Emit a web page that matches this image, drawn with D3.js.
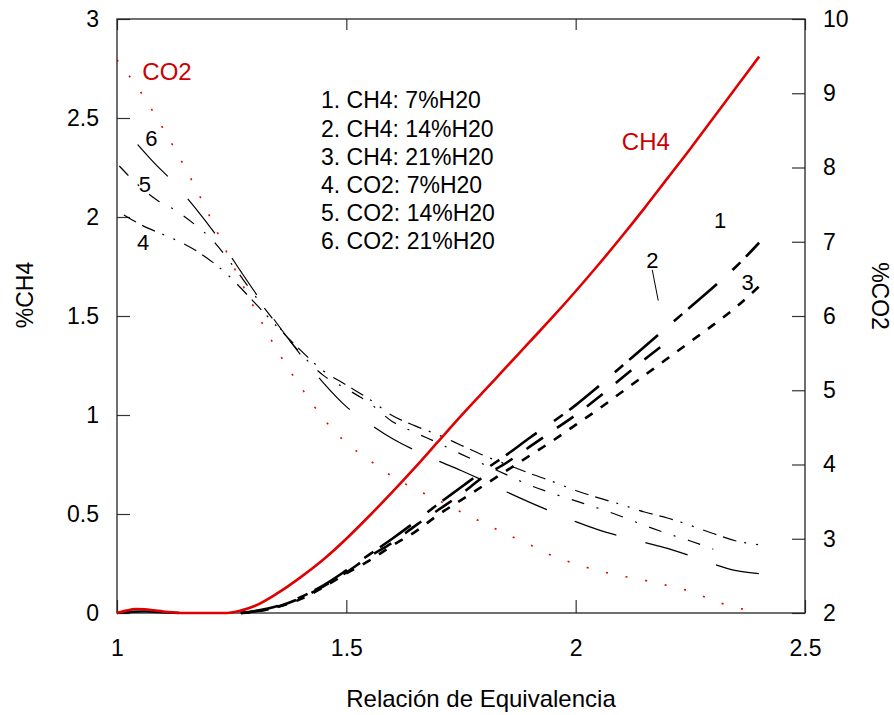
<!DOCTYPE html>
<html>
<head>
<meta charset="utf-8">
<script src="https://cdn.jsdelivr.net/npm/d3@7"></script>
<style>
  html, body { margin: 0; padding: 0; background: #fff; }
  svg text { font-family: "Liberation Sans", Arial, Helvetica, sans-serif; }
</style>
</head>
<body>
<svg id="chart" width="894" height="715"></svg>
<script>
// ---------------- DATA ----------------
// Axis ticks
const xTicks = [1, 1.5, 2, 2.5];
const xTickLabels = ["1", "1.5", "2", "2.5"];
const yLeftTicks = [0, 0.5, 1, 1.5, 2, 2.5, 3];
const yLeftTickLabels = ["0", "0.5", "1", "1.5", "2", "2.5", "3"];
const yRightTicks = [2, 3, 4, 5, 6, 7, 8, 9, 10];
const yRightTickLabels = ["2", "3", "4", "5", "6", "7", "8", "9", "10"];

// %CH4 equilibrium (red solid, left axis)
const ch4RedX = [1.00,1.02,1.04,1.06,1.08,1.10,1.12,1.14,1.24,1.27,1.30,1.35,1.40,1.45,1.50,1.55,1.60,1.65,1.70,1.75,1.80,1.85,1.90,1.95,2.00,2.05,2.10,2.15,2.20,2.25,2.30,2.35,2.40];
const ch4RedY = [0,0.012,0.02,0.019,0.014,0.008,0.003,0,0,0.012,0.035,0.10,0.18,0.27,0.375,0.49,0.61,0.735,0.865,0.995,1.12,1.245,1.37,1.495,1.625,1.76,1.90,2.045,2.195,2.345,2.50,2.655,2.81];

// small initial bump of the black CH4 curves
const ch4BumpX = [1.00, 1.03, 1.06, 1.09, 1.135];
const ch4BumpY = [0, 0.006, 0.008, 0.005, 0];

// %CH4 with water (black dashed, left axis)
const ch4BlackX = [1.27,1.30,1.35,1.40,1.45,1.50,1.55,1.60,1.65,1.70,1.75,1.80,1.85,1.90,1.95,2.00,2.05,2.10,2.15,2.20,2.25,2.30,2.35,2.40];
const ch4_7  = [0,0.01,0.035,0.08,0.14,0.215,0.295,0.375,0.46,0.55,0.635,0.72,0.80,0.885,0.965,1.05,1.145,1.245,1.345,1.445,1.545,1.645,1.75,1.87];
const ch4_14 = [0,0.008,0.032,0.075,0.135,0.205,0.285,0.355,0.44,0.52,0.60,0.69,0.76,0.84,0.92,1.00,1.09,1.185,1.28,1.37];
const ch4_21 = [0,0.006,0.03,0.07,0.13,0.20,0.265,0.34,0.41,0.495,0.57,0.645,0.72,0.795,0.87,0.95,1.03,1.115,1.20,1.285,1.37,1.455,1.545,1.65];

// %CO2 equilibrium (red dotted, right axis)
const co2RedX = [1.00,1.05,1.10,1.15,1.20,1.25,1.30,1.35,1.40,1.45,1.50,1.55,1.60,1.65,1.70,1.75,1.80,1.85,1.90,1.95,2.00,2.05,2.10,2.15,2.20,2.25,2.30,2.35,2.39];
const co2RedY = [9.45,9.03,8.53,7.98,7.37,6.72,6.10,5.53,5.05,4.62,4.29,4.06,3.84,3.67,3.52,3.36,3.21,3.06,2.92,2.77,2.66,2.57,2.50,2.44,2.37,2.29,2.17,2.07,2.03];

// %CO2 with water (thin black, right axis)
const co2_7X = [1.015,1.065,1.10,1.14,1.18,1.235,1.30,1.35,1.40,1.45,1.50,1.55,1.60,1.65,1.70,1.75,1.80,1.85,1.90,1.95,2.00,2.05,2.10,2.15,2.20,2.25,2.30,2.35,2.40];
const co2_7  = [7.36,7.19,7.10,6.99,6.85,6.59,6.18,5.85,5.54,5.26,5.07,4.88,4.66,4.52,4.40,4.26,4.12,4.00,3.88,3.77,3.65,3.55,3.46,3.36,3.28,3.18,3.07,2.97,2.92];
const co2_14X = [1.005,1.04,1.09,1.12,1.17,1.21,1.25,1.30,1.35,1.40,1.45,1.50,1.55,1.60,1.65,1.70,1.75,1.80,1.85,1.90,1.95,2.00,2.05,2.10,2.15,2.20,2.25,2.30];
const co2_14  = [8.02,7.80,7.55,7.45,7.23,7.01,6.70,6.28,5.88,5.50,5.20,5.02,4.83,4.58,4.43,4.29,4.14,4.00,3.86,3.72,3.61,3.51,3.41,3.30,3.18,3.07,2.97,2.86];
const co2_21X = [1.045,1.08,1.12,1.17,1.23,1.27,1.33,1.40,1.45,1.50,1.55,1.60,1.65,1.70,1.75,1.80,1.85,1.90,1.95,2.00,2.05,2.10,2.15,2.20,2.25,2.30,2.35,2.40];
const co2_21  = [8.31,8.07,7.82,7.46,6.97,6.60,6.06,5.48,5.10,4.78,4.55,4.35,4.19,4.05,3.92,3.78,3.63,3.49,3.36,3.23,3.12,3.03,2.95,2.87,2.77,2.66,2.57,2.53];

// Legend / annotation texts
const legendLabels = ["1. CH4: 7%H20", "2. CH4: 14%H20", "3. CH4: 21%H20", "4. CO2: 7%H20", "5. CO2: 14%H20", "6. CO2: 21%H20"];
const annotationTexts = ["CO2", "6", "5", "4", "CH4", "1", "2", "3"];
const annotationX = [1.109, 1.075, 1.061, 1.057, 2.153, 2.315, 2.167, 2.375];
const annotationY = [2.733, 2.402, 2.166, 1.873, 2.380, 1.987, 1.786, 1.674]; // left-axis units
const annotationRed = [true, false, false, false, true, false, false, false];
const leaderX = [2.167, 2.180];
const leaderY = [1.733, 1.578];

// ---------------- CHART ----------------
const svg = d3.select("#chart");
const W = 894, H = 715;
const m = { left: 117, right: 89, top: 19, bottom: 102 };
const x0 = m.left, x1 = W - m.right, y0 = H - m.bottom, y1 = m.top;

const x = d3.scaleLinear().domain([1, 2.5]).range([x0, x1]);
const yL = d3.scaleLinear().domain([0, 3]).range([y0, y1]);
const yR = d3.scaleLinear().domain([2, 10]).range([y0, y1]);

const FONT = 23;
const RED = "#e00000";
const LABEL_RED = "#cc0000";

// axes (inward ticks)
function styleAxis(g) {
  g.select(".domain").remove();
  g.selectAll(".tick line").attr("stroke", "#333").attr("stroke-width", 1.2);
  g.selectAll(".tick text").attr("font-size", FONT).attr("fill", "#000")
    .attr("font-family", '"Liberation Sans", Arial, sans-serif');
}
svg.append("g").attr("transform", `translate(0,${y0})`)
  .call(d3.axisBottom(x).tickValues(xTicks).tickFormat((d, i) => xTickLabels[i]).tickSize(-13).tickSizeOuter(0).tickPadding(27))
  .call(styleAxis);
svg.append("g").attr("transform", `translate(0,${y1})`)
  .call(d3.axisTop(x).tickValues(xTicks).tickFormat("").tickSize(-11).tickSizeOuter(0))
  .call(styleAxis);
svg.append("g").attr("transform", `translate(${x0},0)`)
  .call(d3.axisLeft(yL).tickValues(yLeftTicks).tickFormat((d, i) => yLeftTickLabels[i]).tickSize(-13).tickSizeOuter(0).tickPadding(18))
  .call(styleAxis);
svg.append("g").attr("transform", `translate(${x1},0)`)
  .call(d3.axisRight(yR).tickValues(yRightTicks).tickFormat((d, i) => yRightTickLabels[i]).tickSize(-13).tickSizeOuter(0).tickPadding(18))
  .call(styleAxis);

// frame
svg.append("rect").attr("x", x0).attr("y", y1).attr("width", x1 - x0).attr("height", y0 - y1)
  .attr("fill", "none").attr("stroke", "#222").attr("stroke-width", 1.3);

// axis titles
svg.append("text").attr("x", 481).attr("y", 707).attr("text-anchor", "middle")
  .attr("font-size", 24).text("Relación de Equivalencia");
svg.append("text").attr("transform", "translate(33,295) rotate(-90)").attr("text-anchor", "middle")
  .attr("font-size", 23).text("%CH4");
svg.append("text").attr("transform", "translate(872,296) rotate(90)").attr("text-anchor", "middle")
  .attr("font-size", 23).text("%CO2");

// lines
const pts = (xs, ys) => ys.map((v, i) => ({ x: xs[i], y: v }));
const lineL = d3.line().x(d => x(d.x)).y(d => yL(d.y)).curve(d3.curveMonotoneX);
const lineR = d3.line().x(d => x(d.x)).y(d => yR(d.y)).curve(d3.curveMonotoneX);

const plot = svg.append("g").attr("fill", "none").attr("stroke-linecap", "butt");

// CO2 red dotted
plot.append("path").attr("d", lineR(pts(co2RedX, co2RedY)))
  .attr("stroke", RED).attr("stroke-width", 1.6).attr("stroke-dasharray", "2,18");

// CO2 thin black with water
plot.append("path").attr("d", lineR(pts(co2_7X, co2_7)))
  .attr("stroke", "#000").attr("stroke-width", 1.2).attr("stroke-dasharray", "14,7,14,8,2,10,2,10");
plot.append("path").attr("d", lineR(pts(co2_14X, co2_14)))
  .attr("stroke", "#000").attr("stroke-width", 1.2).attr("stroke-dasharray", "13,13,2,13");
plot.append("path").attr("d", lineR(pts(co2_21X, co2_21)))
  .attr("stroke", "#000").attr("stroke-width", 1.2).attr("stroke-dasharray", "44,30");

// CH4 black bump
plot.append("path").attr("d", lineL(pts(ch4BumpX, ch4BumpY)))
  .attr("stroke", "#000").attr("stroke-width", 2.4);

// CH4 black dashed with water
plot.append("path").attr("d", lineL(pts(ch4BlackX, ch4_7)))
  .attr("stroke", "#000").attr("stroke-width", 2.6).attr("stroke-dasharray", "38,21,11,8");
plot.append("path").attr("d", lineL(pts(ch4BlackX, ch4_14)))
  .attr("stroke", "#000").attr("stroke-width", 2.6).attr("stroke-dasharray", "20,17");
plot.append("path").attr("d", lineL(pts(ch4BlackX, ch4_21)))
  .attr("stroke", "#000").attr("stroke-width", 2.6).attr("stroke-dasharray", "9,10");

// CH4 red solid
plot.append("path").attr("d", lineL(pts(ch4RedX, ch4RedY)))
  .attr("stroke", RED).attr("stroke-width", 2.6);

// leader line for label 2
svg.append("line")
  .attr("x1", x(leaderX[0])).attr("y1", yL(leaderY[0]))
  .attr("x2", x(leaderX[1])).attr("y2", yL(leaderY[1]))
  .attr("stroke", "#000").attr("stroke-width", 1);

// annotations
annotationTexts.forEach((t, i) => {
  svg.append("text")
    .attr("x", x(annotationX[i])).attr("y", yL(annotationY[i]) + 8.3)
    .attr("text-anchor", "middle")
    .attr("font-size", annotationRed[i] ? 24 : 22)
    .attr("fill", annotationRed[i] ? LABEL_RED : "#000")
    .text(t);
});

// legend
const legend = svg.append("g");
legendLabels.forEach((t, i) => {
  legend.append("text").attr("x", 321).attr("y", 100 + i * 28.2 + 8.3)
    .attr("font-size", 23).attr("fill", "#000").text(t);
});
</script>
</body>
</html>
